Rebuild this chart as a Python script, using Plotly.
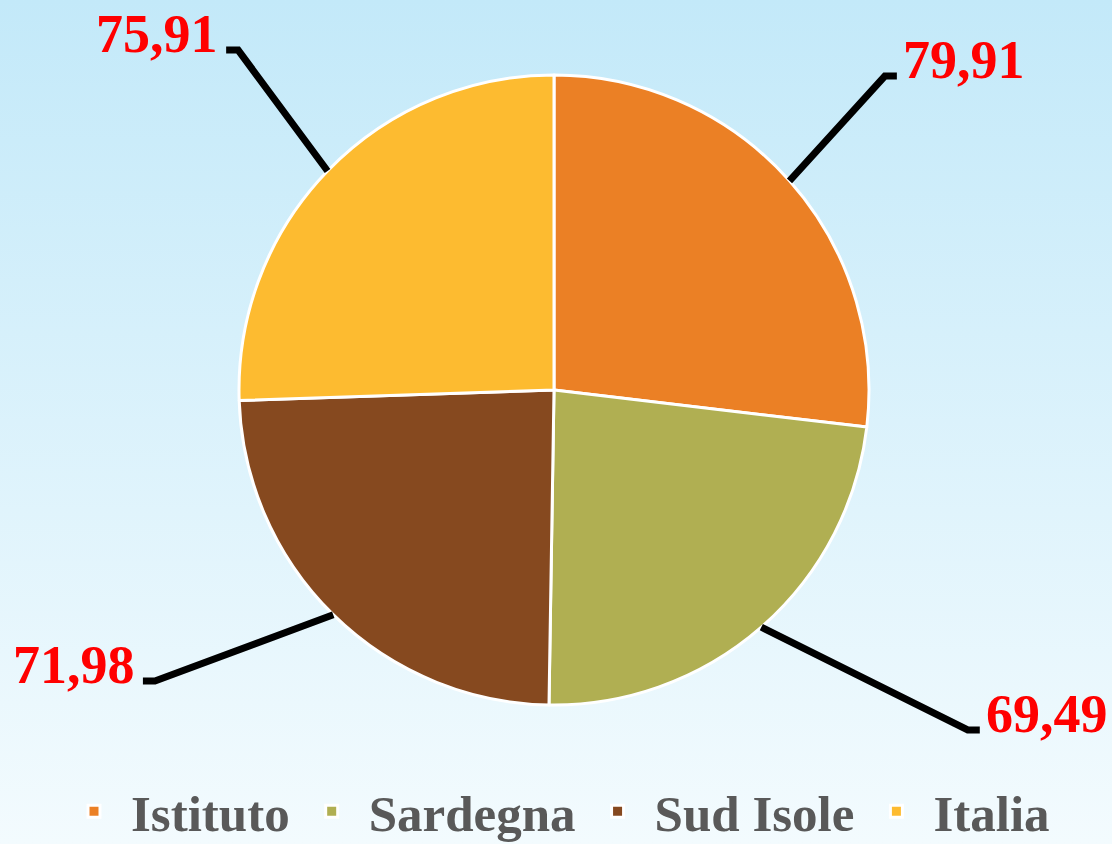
import math
import base64
import plotly.graph_objects as go

# ---- data ----
categories = ["Istituto", "Sardegna", "Sud Isole", "Italia"]
values = [79.91, 69.49, 71.98, 75.91]
value_labels = ["79,91", "69,49", "71,98", "75,91"]
colors = ["#EB8025", "#B0AF52", "#86491F", "#FDBB30"]

# ---- layout constants (pixels) ----
W, H = 1112, 844
CX, CY, R = 554, 390, 315
DOM_R = 315
# elbow points of the leader lines (distance in radii, angle clockwise from top)
elbow_dist = [1.448, 1.70, 1.568, 1.473]
elbow_angle = [46.5, 129.4, 233.9, 317.1]
HSEG = 12

def px2paper(x, y):
    return x / W, 1 - y / H

# background gradient as an inline SVG image
svg = (
    '<svg xmlns="http://www.w3.org/2000/svg" width="1112" height="844">'
    '<defs><linearGradient id="g" x1="0" y1="0" x2="0" y2="1">'
    '<stop offset="0" stop-color="#C3E9F9"/>'
    '<stop offset="1" stop-color="#F3FBFE"/>'
    '</linearGradient></defs>'
    '<rect width="1112" height="844" fill="url(#g)"/></svg>'
)
bg_src = "data:image/svg+xml;base64," + base64.b64encode(svg.encode()).decode()

fig = go.Figure()
fig.add_trace(go.Pie(
    labels=categories,
    values=values,
    sort=False,
    direction="clockwise",
    rotation=0,
    textinfo="none",
    hoverinfo="label+value",
    marker=dict(colors=colors, line=dict(color="white", width=3)),
    domain=dict(x=[(CX - DOM_R) / W, (CX + DOM_R) / W],
                y=[1 - (CY + DOM_R) / H, 1 - (CY - DOM_R) / H]),
))

total = sum(values)
shapes = []
annotations = []
cum = 0.0
for i, v in enumerate(values):
    mid = (cum + v / 2) / total * 360.0
    cum += v
    a = math.radians(mid)
    sx, sy = CX + R * math.sin(a), CY - R * math.cos(a)
    b = math.radians(elbow_angle[i])
    ex, ey = CX + elbow_dist[i] * R * math.sin(b), CY - elbow_dist[i] * R * math.cos(b)
    right = elbow_angle[i] < 180
    hx = ex + HSEG if right else ex - HSEG
    p = [px2paper(sx, sy), px2paper(ex, ey), px2paper(hx, ey)]
    path = "M{:.5f},{:.5f} L{:.5f},{:.5f} L{:.5f},{:.5f}".format(
        p[0][0], p[0][1], p[1][0], p[1][1], p[2][0], p[2][1])
    shapes.append(dict(type="path", xref="paper", yref="paper", path=path,
                       line=dict(color="black", width=7), layer="above"))
    tx = hx + 4 if right else hx - 6
    ax, ay = px2paper(tx, ey - 16)
    annotations.append(dict(
        x=ax, y=ay, xref="paper", yref="paper", text=value_labels[i],
        showarrow=False, xanchor="left" if right else "right", yanchor="middle",
        font=dict(family="Liberation Serif", size=54, color="#FF0000", weight="bold"),
    ))

fig.update_layout(
    width=W, height=H,
    margin=dict(l=0, r=0, t=0, b=0, autoexpand=False),
    paper_bgcolor="#EAF7FC",
    plot_bgcolor="rgba(0,0,0,0)",
    images=[dict(source=bg_src, xref="paper", yref="paper", x=0, y=1,
                 sizex=1, sizey=1, xanchor="left", yanchor="top",
                 sizing="stretch", layer="below")],
    shapes=shapes,
    annotations=annotations,
    showlegend=True,
    legend=dict(orientation="h", x=0.5, xanchor="center", y=-0.009, yanchor="bottom",
                bgcolor="rgba(0,0,0,0)", itemwidth=64,
                font=dict(family="Liberation Serif", size=51, color="#595959", weight="bold")),
)

fig.write_html("out.html", config={"displayModeBar": False},
               post_script="document.body.style.margin='0';")
